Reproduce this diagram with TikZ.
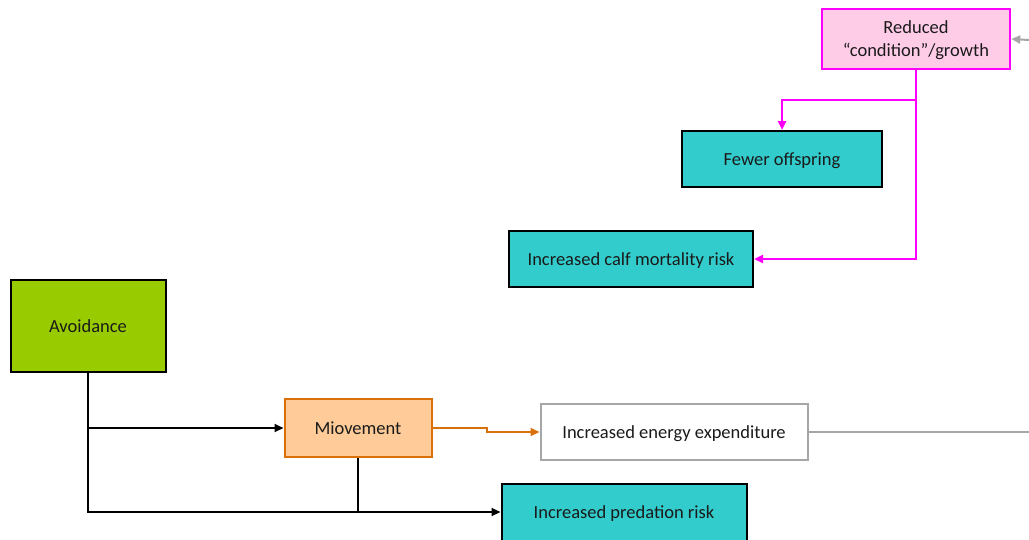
\documentclass[tikz,border=0pt]{standalone}
\usepackage{fontspec}
\setmainfont{Carlito}
\usetikzlibrary{arrows.meta}
\definecolor{tealbox}{HTML}{33CCCC}
\definecolor{greenbox}{HTML}{99CC00}
\definecolor{peach}{HTML}{FFCC99}
\definecolor{orangeline}{HTML}{D9700A}
\definecolor{pinkbox}{HTML}{FFCCE8}
\definecolor{magline}{HTML}{FF00FF}
\definecolor{grayline}{HTML}{A6A6A6}
\definecolor{txt}{HTML}{1A1A1A}
\begin{document}
\begin{tikzpicture}[x=1pt,y=-1pt,
  box/.style={draw=black, line width=2pt, rectangle, inner sep=0pt, align=center,
    font=\fontsize{18.5}{23}\selectfont, text=txt, text depth=0pt},
  tealnode/.style={box, fill=tealbox},
  conn/.style={line width=2pt, black},
  tip/.style={-{Triangle[length=9pt,width=8pt]}},
  magconn/.style={line width=2.5pt, magline},
  orconn/.style={line width=2pt, orangeline},
  grconn/.style={line width=2pt, grayline}]
\clip (0,0) rectangle (1029,539);
\fill[white] (0,0) rectangle (1029,539);
% nodes
\node[box, fill=pinkbox, draw=magline, line width=2.5pt, minimum width=188pt, minimum height=60pt] (red) at (916,39) {Reduced\\``condition''/growth};
\node[tealnode, minimum width=200pt, minimum height=56pt] (few) at (782,159) {Fewer offspring};
\node[tealnode, minimum width=244pt, minimum height=56pt] (calf) at (631,259) {Increased calf mortality risk};
\node[box, fill=greenbox, minimum width=155pt, minimum height=92pt] (av) at (88,326) {Avoidance};
\node[box, fill=peach, draw=orangeline, minimum width=147pt, minimum height=58pt] (mio) at (358,428) {Miovement};
\node[box, fill=white, draw=grayline, minimum width=267pt, minimum height=56pt] (en) at (674,432) {Increased energy expenditure};
\node[tealnode, minimum width=245pt, minimum height=57pt] (pred) at (624,512) {Increased predation risk};
% coordinates
\coordinate (jm) at (916,100);
\coordinate (rin) at (1029,40);
\coordinate (rout) at (1029,432);
% magenta connectors
\draw[magconn, tip] (red.south) |- (calf.east);
\draw[magconn, tip] (jm) -| (few.north);
% gray
\draw[grconn, tip] (rin) -- (red.east);
\draw[grconn] (en.east) -- (rout);
% black
\draw[conn, tip] (av.south) |- (pred.west);
\draw[conn, tip] (av.south |- mio.west) -- (mio.west);
\draw[conn] (mio.south) -- (mio.south |- pred.west);
% orange
\draw[orconn, tip] (mio.east) -- ++(54,0) |- (en.west);
\end{tikzpicture}
\end{document}
